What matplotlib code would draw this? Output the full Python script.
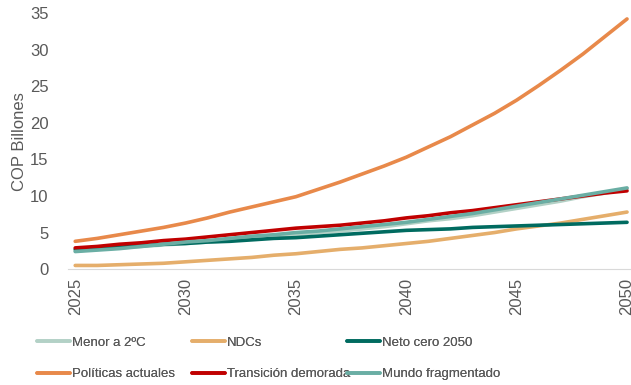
import matplotlib.pyplot as plt

years = list(range(2025, 2051))

menor_2c = [2.5, 2.7, 2.9, 3.1, 3.3, 3.5, 3.7, 3.9, 4.1, 4.4, 4.7, 5.0, 5.2, 5.5, 5.8, 6.2,
            6.6, 6.9, 7.3, 7.8, 8.3, 8.8, 9.3, 9.9, 10.4, 11.0]
ndcs = [0.5, 0.5, 0.6, 0.7, 0.8, 1.0, 1.2, 1.4, 1.6, 1.9, 2.1, 2.4, 2.7, 2.9, 3.2, 3.5,
        3.8, 4.2, 4.6, 5.0, 5.5, 5.9, 6.3, 6.8, 7.3, 7.8]
neto_cero = [2.7, 2.9, 3.0, 3.2, 3.4, 3.5, 3.7, 3.8, 4.0, 4.2, 4.3, 4.5, 4.7, 4.9, 5.1, 5.3,
             5.4, 5.5, 5.7, 5.8, 5.9, 6.0, 6.1, 6.2, 6.3, 6.4]
politicas = [3.8, 4.2, 4.7, 5.2, 5.7, 6.3, 7.0, 7.8, 8.5, 9.2, 9.9, 10.9, 11.9, 13.0, 14.1, 15.3,
             16.7, 18.1, 19.7, 21.3, 23.1, 25.1, 27.2, 29.4, 31.8, 34.2]
transicion = [2.9, 3.1, 3.4, 3.6, 3.9, 4.1, 4.4, 4.7, 5.0, 5.3, 5.6, 5.8, 6.0, 6.3, 6.6, 7.0,
              7.3, 7.7, 8.0, 8.4, 8.8, 9.2, 9.6, 10.0, 10.4, 10.7]
mundo = [2.4, 2.6, 2.8, 3.1, 3.4, 3.7, 3.9, 4.2, 4.5, 4.7, 5.0, 5.2, 5.5, 5.8, 6.1, 6.4,
         6.8, 7.2, 7.6, 8.1, 8.6, 9.1, 9.6, 10.1, 10.6, 11.1]

series = [
    ('Menor a 2ºC', menor_2c, '#b3d1c6'),
    ('NDCs', ndcs, '#e5ae6b'),
    ('Neto cero 2050', neto_cero, '#006b60'),
    ('Políticas actuales', politicas, '#e8894a'),
    ('Transición demorada', transicion, '#c00000'),
    ('Mundo fragmentado', mundo, '#6aaea4'),
]

plt.rcParams['font.family'] = ['Liberation Sans', 'DejaVu Sans']

fig = plt.figure(figsize=(6.31, 3.85), dpi=100)
ax = fig.add_axes([0.108, 0.301, 0.892, 0.665])

lines = {}
for name, vals, col in series:
    lines[name], = ax.plot(years, vals, color=col, lw=2.6, solid_capstyle='round', label=name)

ax.set_xlim(2024.68, 2050.18)
ax.set_ylim(0, 35)
ax.set_xticks(range(2025, 2051, 5))
ax.set_yticks(range(0, 36, 5))
ax.tick_params(axis='both', length=0, labelsize=12, labelcolor='#595959')
ax.tick_params(axis='x', rotation=90, pad=6)
ax.tick_params(axis='y', pad=14)
for s in ['top', 'right', 'left']:
    ax.spines[s].set_visible(False)
ax.spines['bottom'].set_color('#d9d9d9')
ax.set_ylabel('COP Billones', fontsize=12, color='#595959', labelpad=2)

# one legend per column, placed like the excel layout
cols = [['Menor a 2ºC', 'Políticas actuales'],
        ['NDCs', 'Transición demorada'],
        ['Neto cero 2050', 'Mundo fragmentado']]
xs = [0.0586, 0.304, 0.55]
for names, x0 in zip(cols, xs):
    leg = fig.legend([lines[n] for n in names], names, loc='lower left',
                     bbox_to_anchor=(x0, 0.012), frameon=False, fontsize=9.5,
                     labelcolor='#595959', handlelength=2.5, handletextpad=0.15,
                     labelspacing=1.45, borderaxespad=0, borderpad=0)
    fig.add_artist(leg)

fig.savefig('out.png', dpi=100)
